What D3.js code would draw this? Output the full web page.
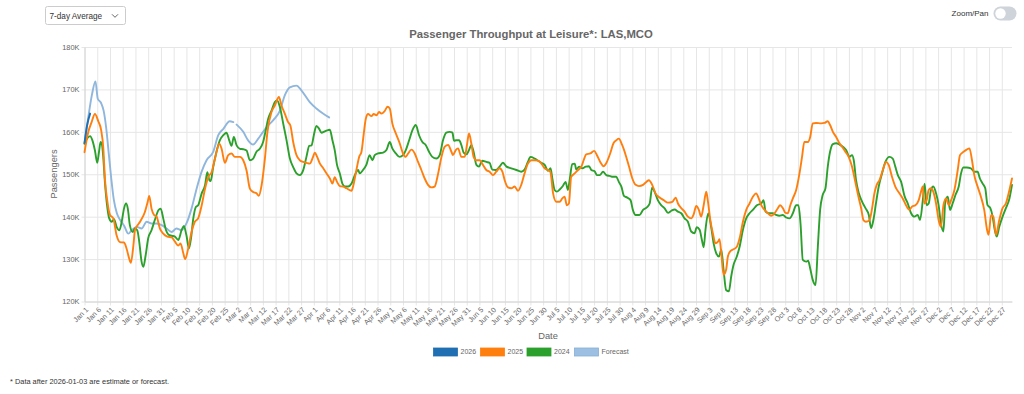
<!DOCTYPE html>
<html>
<head>
<meta charset="utf-8">
<script src="https://cdn.jsdelivr.net/npm/d3@7"></script>
<style>
	body { margin: 0; background: #fff; font-family: "Liberation Sans", Arial, sans-serif; }
	svg text { font-family: "Liberation Sans", Arial, sans-serif; }
</style>
</head>
<body>
<main></main>
<script>

// DATA (day of year from Jan 1, passengers in thousands)
const TITLE = "Passenger Throughput at Leisure*: LAS,MCO";
const FOOTNOTE = "* Data after 2026-01-03 are estimate or forecast.";
const BASE_DATE = new Date(2025, 0, 1);
const Y_TICKS = [120, 130, 140, 150, 160, 170, 180];
const X_TICK_DAYS = d3.range(0, 361, 5);
const SERIES_NAMES = ["2026", "2025", "2024", "Forecast"];

const DATA_2026 = [[0, 157.4], [1, 161.5], [2.2, 164.3]];

const DATA_FORECAST = [
	[0, 157.2], [1.5, 163.5], [3, 169], [4.3, 171.9], [5.2, 167.8], [6.5, 166.8], [7.5, 165],
	[8.5, 161], [9.5, 155], [10.5, 149], [11.5, 144], [12.7, 140.8], [14, 139.2], [15.6, 137.8],
	[17.2, 136], [18.5, 136.8], [20.5, 137.6], [22.4, 137.2], [24.4, 138.8], [26.3, 138.4], [28.3, 138.4],
	[30.3, 138], [32.2, 137.2], [34.2, 136.4], [36.1, 137.2], [38.1, 136.8], [40, 138.4], [42, 141.9],
	[44, 146.6], [45.9, 150.5], [47.9, 153.3], [50.5, 155.3], [52.5, 159.2], [54.5, 160.7], [57, 162.5],
	[58.4, 162.3], null,
	[59.7, 161.7], [62.3, 160], [64.2, 158], [66.2, 157], [68.2, 158.4], [70.1, 160], [72.1, 161.5],
	[74, 162.7], [76.7, 165], [78.6, 168.6], [80.6, 170.5], [83.2, 170.9], [85.1, 169.8], [88.4, 167],
	[91, 165.5], [93.6, 164.3], [96, 163.4]
];

const DATA_2025 = [
	[0, 155.2], [1.5, 160], [2.8, 162.3], [4.1, 164.2], [5.4, 162.5], [6.5, 160.5], [7.4, 156], [8, 149],
	[9, 143.5], [10, 140.4], [11.3, 139.6], [12.6, 135.6], [13.9, 134], [15.5, 133.9], [16.5, 132.5],
	[17.5, 130.2], [18.2, 129.1], [19.2, 133.3], [19.8, 136.8], [21.8, 138.8], [23.7, 141.1], [24.8, 143.5],
	[25.4, 144.9], [26.3, 141.9], [27.3, 140.4], [28.3, 140], [29.6, 137.2], [30.9, 136], [32.5, 135.3],
	[34.2, 135.1], [35.5, 134.1], [36.8, 133.2], [37.7, 133.7], [38.8, 131.3], [39.5, 130], [40.7, 132.5],
	[42, 136.4], [43.3, 138.8], [44.6, 139.6], [46, 142.7], [47.3, 146.6], [48.6, 149.4], [49.9, 150.5],
	[51.2, 153.7], [52.9, 157.2], [53.8, 156], [55.1, 152.7], [56.4, 154.5], [57.7, 154.9], [59, 154.1],
	[61, 154.1], [62.3, 153.3], [63.6, 150.9], [64.9, 146.6], [66.2, 145.8], [67.5, 145.5], [68.4, 144.9],
	[69.5, 147.4], [70.8, 153.7], [71.8, 160], [73.4, 164.7], [74.7, 166.2], [76.3, 168.2], [77.3, 166.2],
	[78.6, 164.3], [79.9, 162.3], [80.8, 161.5], [81.9, 157.6], [83.2, 154.5], [84.5, 153.3], [85.8, 152.9],
	[87.1, 152.7], [88.4, 152.5], [89.7, 154.1], [90.4, 155.1], [91.3, 154.1], [92.4, 152.5], [93.7, 151.4],
	[95, 150.2], [96.3, 149], [97.3, 147.8], [98.2, 149.3], [99.1, 148.2], [100.2, 147.2], [101.5, 147.1],
	[102.8, 146.7], [104.8, 146.1], [105.4, 147.1], [106.7, 151], [107.8, 154.1], [108.7, 155.3],
	[109.6, 159.6], [110.4, 163.1], [111.3, 164.2], [112.6, 163.7], [113.5, 164.2], [114.6, 163.9],
	[115.6, 164.7], [116.5, 164.3], [117.8, 164.9], [118.9, 165.9], [119.8, 165.5], [120.8, 162],
	[122.2, 159.6], [123.7, 157.3], [125, 154.9], [126.1, 154.1], [127, 154.9], [128.3, 155.8],
	[129.6, 154.9], [130.9, 152.9], [132.2, 151], [133.5, 149], [134.8, 147.5], [136.1, 146.9],
	[137.4, 147.1], [138.8, 150.2], [140.1, 154.1], [141.4, 156.5], [142.7, 156.9], [144, 155.3],
	[144.6, 154.5], [145.7, 155.7], [146.6, 156.1], [147.9, 154.1], [149.2, 154.1], [150.1, 156.9],
	[150.9, 159.6], [151.8, 157.3], [152.7, 154.1], [153.8, 153.3], [155.1, 153.3], [156.4, 152.2],
	[157.7, 151], [159, 150.6], [160.3, 149.8], [161.6, 150.6], [162.9, 151.4], [164, 150.6], [164.9, 148.6],
	[166.2, 146.9], [167.5, 146.7], [168.8, 147.1], [170.1, 146.1], [171.4, 147.5], [172.7, 150.2],
	[174, 152.5], [175.4, 153.3], [176.7, 153.3], [178, 153.2], [179.3, 152.5], [180.6, 151.4], [181.9, 151],
	[182.8, 150.6], [183.9, 145.5], [185.2, 143.5], [186.5, 143.5], [187.5, 144.3], [188.4, 144.7],
	[189.3, 142.7], [190.1, 143.1], [191, 149.4], [192.4, 150.2], [193.7, 151], [195, 151.8], [195.9, 153.3],
	[196.9, 154.7], [198.5, 154.9], [200, 155.5], [201.1, 154.5], [202.4, 152.9], [203.7, 151.9], [205, 152.9],
	[206.3, 154.9], [207.6, 157.3], [208.7, 158], [209.7, 158.4], [211, 156.9], [212.4, 154.5], [213.7, 151.8],
	[215, 149], [216.3, 147.5], [217.6, 147.2], [219.2, 147.5], [220.5, 148.2], [221.5, 148.6], [222.8, 147.5],
	[224.1, 145.5], [225.7, 144.5], [227.3, 143.9], [229, 143.3], [230.7, 143.5], [232, 144.5], [232.9, 143.1],
	[234.2, 142], [235.5, 141.2], [236.8, 140], [238.1, 139.6], [239, 140.4], [240.1, 142.5], [241.1, 141.6],
	[242, 140], [243, 142.7], [244, 145.9], [244.6, 143.9], [245.6, 139.2], [246.6, 136.1], [247.6, 133.7],
	[248.6, 134.1], [249.2, 134.7], [249.9, 131.4], [250.8, 126.3], [251.8, 127.5], [252.5, 130.6],
	[253.4, 131.8], [254.7, 132.3], [256, 132.9], [257.1, 134.9], [258.4, 138.8], [259.7, 141.6], [261, 143.1],
	[262.3, 144.7], [263.6, 145.5], [264.6, 144.3], [265.6, 142.7], [266.9, 141.6], [268.2, 140.8],
	[269.5, 140.2], [270.8, 140.8], [272.1, 142], [273, 142.7], [274.1, 142], [275.1, 140.9], [276, 140.8],
	[277, 142.7], [278, 144.3], [279.3, 146.3], [280.6, 150.2], [281.6, 154.1], [282.5, 157.6], [283.9, 157.6],
	[284.8, 158.8], [285.8, 162], [287.1, 162.1], [289.1, 162], [290.4, 162.1], [291.7, 162.5], [292.6, 161.6],
	[293.7, 160], [295, 158.8], [296.3, 157.3], [297.3, 156.5], [298.6, 155.3], [299.9, 154.1], [301.2, 151.8],
	[302.5, 148.2], [303.9, 144.3], [304.8, 142], [305.7, 139.2], [306.7, 138.8], [308, 139.1], [309.1, 142],
	[310, 145.5], [310.9, 147.5], [312, 148.6], [313.3, 151], [314.6, 152.9], [315.6, 152.2], [316.9, 149.4],
	[318.2, 147.1], [319.8, 145.5], [321.1, 144.3], [322.4, 142.7], [323.7, 141.6], [324.8, 142.4],
	[326.1, 142.7], [327.4, 143.9], [328.3, 145.9], [329, 147.1], [329.6, 143.1], [330.5, 143.9],
	[331.3, 146.3], [332.2, 146.7], [333.1, 145.9], [334.2, 143.1], [335.2, 139.2], [336.1, 137.6],
	[337.1, 142.7], [338.1, 144.3], [339.2, 142.7], [340.1, 143.9], [341.4, 146.3], [342.7, 151],
	[343.6, 154.5], [345, 155.3], [346.2, 155.8], [347.3, 156.1], [348.3, 153.3], [349.2, 149.8],
	[350.5, 147.1], [351.8, 144.7], [353.1, 141.6], [354.2, 136.9], [354.8, 135.7], [355.8, 140.4],
	[356.7, 140], [357.7, 135.7], [359, 139.2], [360.3, 142], [361.6, 143.1], [363, 146.3], [364, 149]
];

const DATA_2024 = [
	[0, 157.2], [1.1, 158.5], [2.2, 159], [3.1, 158], [4.1, 155.6], [5, 152.7], [5.7, 155.3], [6.3, 157.6],
	[6.9, 156.8], [7.4, 153.7], [8, 148.2], [8.7, 143.5], [9.7, 139.6], [10.7, 138.8], [11.6, 139.4],
	[12.6, 137.6], [13.7, 136.8], [14.6, 138.8], [15.5, 141.9], [16.3, 143.1], [17, 141.9], [17.8, 138],
	[18.9, 136.4], [19.8, 137.2], [20.7, 136.8], [21.5, 134], [22.4, 129.4], [23.1, 128.2], [24, 130.9],
	[25, 134.9], [26.3, 136.8], [27.6, 139.2], [29, 141.5], [29.9, 141.9], [30.9, 139.6], [32, 136.8],
	[32.9, 135.8], [34.2, 135.5], [35.5, 135.3], [36.8, 134.5], [38.1, 136.8], [39, 137.8], [40, 135.6],
	[41, 132.5], [41.8, 134.9], [42.7, 139.6], [43.7, 142.3], [44.6, 142.7], [46, 145.5], [47.3, 147.4],
	[48.2, 150.5], [49, 148.6], [49.5, 148.4], [50.5, 151.7], [51.8, 155.3], [53.1, 158], [54.5, 159.2],
	[55.7, 159.8], [56.8, 158], [57.7, 156.7], [58.6, 158.8], [59.7, 156.8], [61, 156], [62.3, 155.9],
	[63.6, 155.6], [64.9, 153.3], [66.2, 153.7], [67.5, 155.3], [68.8, 156], [70.1, 157.6], [71, 160],
	[72.1, 163.1], [73.4, 165], [74.7, 167], [75.6, 167.4], [76.7, 165.8], [78, 161.9], [79.3, 158],
	[80.6, 153.7], [81.9, 151.7], [83.2, 150.2], [84.5, 149.8], [85.8, 150.9], [87.1, 154.1], [88.2, 156.7],
	[89.1, 156.8], [90, 159.2], [91, 161.4], [92.1, 160.7], [93, 159.8], [94.3, 160.1], [95.6, 160.4],
	[96.3, 160.5], [97.3, 158], [98.2, 155.7], [99.1, 152.2], [100.2, 150.2], [101.2, 147.8], [102.2, 147.1],
	[103.5, 147.1], [104.8, 147.8], [106.1, 149.8], [107.4, 151], [108, 150.2], [109.3, 151], [110.6, 152.2],
	[111.9, 154.5], [113, 153.3], [113.9, 154.5], [115.2, 154.9], [117.2, 155.1], [118.5, 155.7],
	[119.8, 157.6], [120.8, 156.1], [122.2, 154.9], [123.7, 154.1], [125, 154.5], [126.1, 155.7],
	[127.4, 158], [128.7, 160.4], [130, 161.6], [131.3, 159.2], [132.6, 157.6], [133.9, 156.9],
	[135.2, 155.3], [136.5, 154.1], [138.1, 153.7], [139.4, 154.5], [140.7, 158], [142, 159.8], [143.3, 160],
	[144.4, 159.8], [145, 157.9], [145.9, 158], [147, 158], [147.9, 156.9], [148.8, 155.1], [149.9, 154.7],
	[150.9, 155.7], [151.8, 156.9], [152.7, 155.3], [153.8, 152.2], [154.8, 151.8], [156.1, 153.2],
	[157.7, 152.9], [159, 152.7], [160, 151.1], [161.4, 151], [162.9, 151.8], [164.2, 152.7], [165.6, 151.8],
	[167.5, 151.4], [169.5, 151], [171.4, 150.6], [172.7, 151.1], [174, 152.9], [175, 154.1], [176.7, 153.7],
	[178, 153.2], [179.3, 152.7], [180.6, 152.2], [181.9, 150.8], [182.9, 151.4], [183.6, 149], [184.5, 146.3],
	[185.4, 145.9], [186.5, 146.4], [187.8, 147.3], [188.8, 148.2], [189.7, 146.3], [190.4, 148.6],
	[191.4, 152.4], [192.4, 152.5], [193, 151.1], [194.1, 151.8], [195.4, 151.4], [196.7, 151.8], [198, 151.9],
	[198.9, 151], [200.2, 150.7], [201.1, 149.8], [202.2, 149.8], [203.5, 150.6], [204.8, 149.8],
	[206.1, 149.6], [207.4, 149.4], [208.7, 149.4], [209.7, 148.2], [210.7, 147.1], [211.7, 144.9], [213, 144.5],
	[214.3, 143.9], [215.2, 141.6], [216.3, 140.4], [217.8, 140.4], [219.2, 141.6], [220.7, 142.2],
	[221.8, 143.1], [222.8, 146.9], [223.7, 145.9], [225, 143.9], [226.3, 142.7], [227.6, 142], [229, 140.9],
	[230.3, 141.4], [231.6, 141.7], [232.9, 141.2], [234.2, 140.8], [235.5, 139.6], [236.8, 138.8],
	[238.1, 136.5], [239.4, 136.1], [240.3, 137.5], [241.4, 136.9], [242.3, 134.5], [243, 132.8],
	[243.7, 136.9], [244.8, 140.8], [246, 137.3], [246.9, 133.7], [247.9, 131.4], [249, 130.6], [249.9, 132.2],
	[250.8, 127.5], [251.8, 122.7], [252.9, 122.4], [253.8, 125.9], [254.7, 128.6], [256, 130.6],
	[257.1, 132.9], [258.4, 136.9], [259.7, 139.6], [261, 140.8], [262.3, 141.6], [263.9, 142.7],
	[265.6, 143.1], [266.5, 143.9], [267.3, 141.2], [268.6, 140.8], [270.1, 140.8], [271.4, 140.4],
	[272.7, 140.2], [274.1, 140.4], [275.4, 139.8], [276.7, 139.6], [278, 140.8], [279.3, 142.7],
	[280.2, 142.7], [281, 138.4], [281.9, 129.8], [283.2, 129.4], [284, 129.6], [284.8, 127.8], [285.8, 125.1],
	[286.9, 123.9], [287.8, 132.9], [288.7, 141.6], [289.7, 145.1], [290.8, 146.7], [291.7, 151.8],
	[292.6, 155.3], [293.7, 157.1], [295, 157.3], [296.3, 157], [297.6, 156.5], [298.9, 155.7], [300.2, 154.1],
	[301.2, 154.5], [301.9, 153.3], [302.8, 148.6], [303.9, 145.5], [305.2, 143.5], [306.5, 142],
	[307.8, 140.4], [308.7, 137.3], [309.6, 139.2], [310.7, 143.5], [311.7, 147.1], [313, 150.2],
	[314.3, 152.9], [315.9, 154.1], [317.2, 153.7], [318.2, 151.8], [319.2, 149.8], [320.5, 148.2],
	[321.8, 144.9], [323.1, 143.1], [324.4, 140.8], [325.7, 140], [327, 140.4], [327.9, 139.2], [329, 143.9],
	[329.7, 147.8], [330.5, 142.7], [331.3, 143.1], [332.2, 146.3], [333.1, 147.1], [334.2, 145.5],
	[335.2, 142.7], [336.1, 138.4], [337.1, 136.5], [337.8, 143.5], [338.8, 144.7], [339.7, 141.6],
	[340.7, 143.1], [341.8, 145.1], [343.1, 147.1], [344, 150.2], [344.9, 151.6], [346.2, 151.6],
	[347.9, 151.4], [349.2, 150.6], [350.5, 150.6], [351.4, 149], [352.5, 147.8], [353.5, 146.7],
	[354.4, 142.7], [355.5, 142], [356.4, 140], [357.1, 137.3], [358, 135.3], [359, 137.6], [360.3, 140],
	[361.6, 142], [363, 144.3], [364, 147.5]
];



// STYLE
const COLORS = {
	"2026": "#1f6fb2",
	"2025": "#ff7f0e",
	"2024": "#2ca02c",
	"Forecast": "#8fb6dc"
};



// CHART
function drawChart() {
	const w = 1024;
	const h = 394;
	const margin = { left: 84.5, right: 12, top: 47, bottom: 92.5 };
	const innerW = w - margin.left - margin.right;
	const innerH = h - margin.top - margin.bottom;

	const svg = d3.select("main").append("svg")
		.attr("width", w)
		.attr("height", h)
		.style("display", "block");

	// scales
	const xScale = d3.scaleLinear().domain([0, 364]).range([0, innerW]);
	const yScale = d3.scaleLinear().domain([120, 180]).range([innerH, 0]);
	const dateFmt = d3.timeFormat("%b %-d");

	const plot = svg.append("g")
		.attr("transform", `translate(${margin.left}, ${margin.top})`);

	// grid
	plot.append("g")
		.attr("class", "grid-x")
		.attr("transform", `translate(0, ${innerH})`)
		.call(d3.axisBottom(xScale).tickValues(X_TICK_DAYS).tickSize(-innerH).tickFormat(""))
		.call(g => g.select(".domain").remove())
		.call(g => g.selectAll("line").attr("stroke", "#e6e6e6").attr("y2", -innerH).attr("y1", 4));
	plot.append("g")
		.attr("class", "grid-y")
		.call(d3.axisLeft(yScale).tickValues(Y_TICKS).tickSize(-innerW).tickFormat(""))
		.call(g => g.select(".domain").remove())
		.call(g => g.selectAll("line").attr("stroke", "#e6e6e6").attr("x1", -3));

	// axes
	const xAxis = d3.axisBottom(xScale)
		.tickValues(X_TICK_DAYS)
		.tickSize(0)
		.tickFormat(d => dateFmt(d3.timeDay.offset(BASE_DATE, d)));
	plot.append("g")
		.attr("id", "x-axis")
		.attr("transform", `translate(0, ${innerH})`)
		.call(xAxis)
		.call(g => g.select(".domain").attr("stroke", "#d4d4d4"))
		.call(g => g.selectAll("text")
			.attr("x", 0).attr("y", 0).attr("dy", "0.35em")
			.attr("transform", "translate(2, 7) rotate(-45)")
			.attr("text-anchor", "end")
			.attr("fill", "#666")
			.style("font-size", "7.2px"));

	const yAxis = d3.axisLeft(yScale)
		.tickValues(Y_TICKS)
		.tickSize(0)
		.tickPadding(5)
		.tickFormat(d => d + "K");
	plot.append("g")
		.attr("id", "y-axis")
		.call(yAxis)
		.call(g => g.select(".domain").attr("stroke", "#d4d4d4"))
		.call(g => g.selectAll("text").attr("fill", "#666").style("font-size", "7.4px"));

	// lines
	const line = d3.line()
		.defined(d => d !== null)
		.x(d => xScale(d[0]))
		.y(d => yScale(d[1]))
		.curve(d3.curveMonotoneX);

	const series = [
		{ name: "Forecast", data: DATA_FORECAST },
		{ name: "2024", data: DATA_2024 },
		{ name: "2025", data: DATA_2025 },
		{ name: "2026", data: DATA_2026 }
	];
	plot.selectAll("path.series")
		.data(series)
		.enter()
		.append("path")
			.attr("class", "series")
			.attr("d", d => line(d.data))
			.attr("fill", "none")
			.attr("stroke", d => COLORS[d.name])
			.attr("stroke-width", 1.9)
			.attr("stroke-linejoin", "round")
			.attr("stroke-linecap", "round");

	// title
	svg.append("text")
		.attr("x", 531)
		.attr("y", 38)
		.attr("text-anchor", "middle")
		.attr("fill", "#666")
		.style("font-size", "11.3px")
		.style("font-weight", "bold")
		.text(TITLE);

	// axis titles
	svg.append("text")
		.attr("x", 548)
		.attr("y", 338.5)
		.attr("text-anchor", "middle")
		.attr("fill", "#666")
		.style("font-size", "9.3px")
		.text("Date");
	svg.append("text")
		.attr("transform", `translate(56.5, 174) rotate(-90)`)
		.attr("text-anchor", "middle")
		.attr("fill", "#666")
		.style("font-size", "9.3px")
		.text("Passengers");

	// legend
	const legendX = [433.5, 480.5, 527, 574.5];
	const legend = svg.append("g").attr("class", "legend");
	const items = legend.selectAll("g")
		.data(SERIES_NAMES)
		.enter()
		.append("g")
			.attr("transform", (d, i) => `translate(${legendX[i]}, 348)`);
	items.append("rect")
		.attr("width", 24)
		.attr("height", 8)
		.attr("fill", d => d === "Forecast" ? "#9dc0e2" : COLORS[d])
		.attr("stroke", d => d === "Forecast" ? "#86aed6" : COLORS[d])
		.attr("stroke-width", 0.8);
	items.append("text")
		.attr("x", 27)
		.attr("y", 4)
		.attr("dy", "0.35em")
		.attr("fill", "#666")
		.style("font-size", "7px")
		.text(d => d);

	// footnote
	svg.append("text")
		.attr("x", 10)
		.attr("y", 381.5)
		.attr("dy", "0.35em")
		.attr("fill", "#333")
		.style("font-size", "7.4px")
		.text(FOOTNOTE);

	// dropdown
	const dd = svg.append("g").attr("class", "dropdown");
	dd.append("rect")
		.attr("x", 45.5).attr("y", 6.5)
		.attr("width", 80).attr("height", 18)
		.attr("rx", 2)
		.attr("fill", "#fff")
		.attr("stroke", "#ccc");
	dd.append("text")
		.attr("x", 49.5).attr("y", 15.7)
		.attr("dy", "0.35em")
		.attr("fill", "#333")
		.style("font-size", "8.2px")
		.text("7-day Average");
	dd.append("path")
		.attr("d", "M112,14.3 L115,17.3 L118,14.3")
		.attr("fill", "none")
		.attr("stroke", "#555")
		.attr("stroke-width", 0.9);

	// zoom/pan toggle
	svg.append("text")
		.attr("x", 988.5).attr("y", 13.5)
		.attr("dy", "0.35em")
		.attr("text-anchor", "end")
		.attr("fill", "#333")
		.style("font-size", "8px")
		.text("Zoom/Pan");
	svg.append("rect")
		.attr("x", 993.5).attr("y", 6.5)
		.attr("width", 23).attr("height", 14)
		.attr("rx", 7)
		.attr("fill", "#ced4da");
	svg.append("circle")
		.attr("cx", 1000.5).attr("cy", 13.5)
		.attr("r", 5.2)
		.attr("fill", "#fff");
}



// MAIN
document.addEventListener("DOMContentLoaded", () => {
	drawChart();
});
</script>
</body>
</html>
